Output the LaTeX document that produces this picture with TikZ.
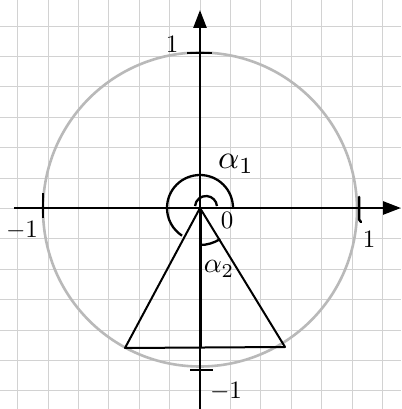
\documentclass[tikz,border=0pt]{standalone}
\usetikzlibrary{arrows.meta}
\definecolor{gridc}{RGB}{210,210,210}
\definecolor{circc}{RGB}{185,185,185}
\begin{document}
\begin{tikzpicture}[x=1pt,y=1pt,
  axis/.style={line width=2.6pt,-{Triangle[length=18pt,width=13pt]}},
  tickm/.style={line width=2.5pt},
  tri/.style={line width=2pt},
  angarc/.style={line width=2.3pt},
  lbl/.style={inner sep=0pt,scale=2.5},
  albl/.style={inner sep=0pt,scale=3.3}]
\useasboundingbox (0,0) rectangle (401,409);
\fill[white] (0,0) rectangle (401,409);
% grid
\foreach \k in {-6,...,7} {
  \draw[gridc,line width=1pt] ({200+30.4*\k},0) -- ({200+30.4*\k},409);
}
\foreach \k in {-7,...,7} {
  \draw[gridc,line width=1pt] (0,{200.5+30.4*\k}) -- (401,{200.5+30.4*\k});
}
% circle
\draw[circc,line width=2.6pt] (200,199.5) circle[radius=157];
% named points
\coordinate (O) at (200,201);
\coordinate (xs) at (14,201);
\coordinate (xe) at (401,201);
\coordinate (ys) at (200,0);
\coordinate (ye) at (200,399);
\coordinate (L) at (125,61);
\coordinate (R) at (285,62);
% axes
\draw[axis] (xs) -- (xe);
\draw[axis] (ys) -- (ye);
\draw[line width=3pt] (O) -- (200,61);
% ticks
\coordinate (t1a) at (187,356); \coordinate (t1b) at (212,356);
\coordinate (t2a) at (190,39); \coordinate (t2b) at (213,39);
\coordinate (t3a) at (43,191); \coordinate (t3b) at (43,216);
\coordinate (t4a) at (359,212); \coordinate (t4b) at (361,187);
\draw[tickm] (t1a) -- (t1b);
\draw[tickm] (t2a) -- (t2b);
\draw[tickm] (t3a) -- (t3b);
\draw[tickm,line cap=round] (t4a) -- (359,193) .. controls (359,189) .. (t4b);
% triangle
\draw[tri,line join=round] (O) -- (L) -- (R) -- cycle;
% angle arcs
\draw[angarc] (O) ++(0:33) arc[start angle=0,end angle=237,radius=33];
\draw[angarc] (206,202) ++(175:11) arc[start angle=175,end angle=5,radius=11];
\draw[angarc] (O) ++(-90:37) arc[start angle=-90,end angle=-57,radius=37];
% labels
\node[lbl] (l1) at (172,365) {$1$};
\node[lbl] (lm1) at (22,179) {$-1$};
\node[lbl] (r1) at (369,170) {$1$};
\node[lbl] (bm1) at (226,18) {$-1$};
\node[lbl] (zero) at (227,189) {$0$};
\node[albl] (a1) at (236,245) {$\alpha_1$};
\node[inner sep=0pt,scale=2.8] (a2) at (219,140) {$\alpha_2$};
\end{tikzpicture}
\end{document}
